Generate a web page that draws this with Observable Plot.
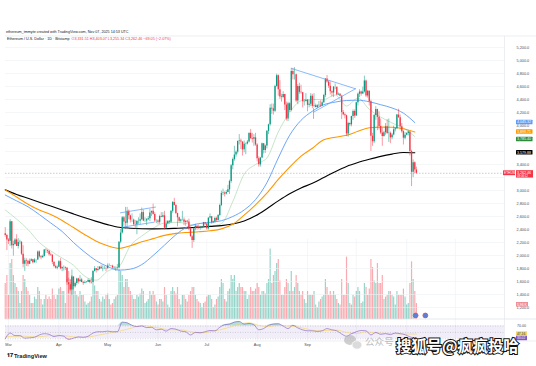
<!DOCTYPE html>
<html><head><meta charset="utf-8">
<script src="https://cdn.jsdelivr.net/npm/d3@7"></script>
<script src="https://cdn.jsdelivr.net/npm/@observablehq/plot@0.6"></script>
<style>
html,body{margin:0;padding:0;background:#fff;}
#wrap{position:relative;width:536px;height:366px;overflow:hidden;background:#fff;font-family:"Liberation Sans","DejaVu Sans",sans-serif;}
.layer{position:absolute;left:0;}
.txt{position:absolute;white-space:nowrap;line-height:1;}
</style></head><body><div id="wrap"></div>
<script>
// ---------- DATA (daily, 2025-02-27 .. 2025-11-07) ----------
const firstOpen = 2335;
const closes = [
 2307,2237,
 2218,2520,2150,2170,2240,2140,2200,2205,2020,1865,1920,1910,1865,1910,1935,1890,1930,1930,2055,1980,1965,1985,2085,2080,2065,2010,2005,1895,1830,1805,1820,
 1905,1795,1815,1815,1805,1580,1550,1470,1670,1520,1570,1640,1595,1625,1585,1575,1585,1590,1615,1585,1580,1755,1795,1770,1785,1820,1795,1800,1800,1795,
 1840,1840,1835,1810,1815,1815,1810,2205,2345,2580,2515,2495,2680,2610,2545,2545,2475,2470,2525,2525,2550,2660,2530,2530,2550,2565,2655,2680,2630,2530,2530,
 2510,2600,2590,2610,2420,2485,2525,2510,2680,2815,2770,2645,2580,2525,2545,2545,2510,2525,2515,2410,2290,2230,2410,2450,2420,2415,2425,2435,2505,2485,
 2410,2575,2595,2505,2515,2570,2540,2615,2770,2955,2960,2945,2970,3010,3140,3380,3475,3545,3590,3755,3760,3745,3625,3710,3715,3745,3880,3800,3790,3810,3700,
 3490,3395,3500,3720,3615,3685,3910,4010,4265,4255,4220,4600,4765,4550,4440,4430,4475,4315,4100,4335,4230,4830,4780,4780,4375,4600,4510,4505,4365,4370,4390,
 4310,4325,4450,4295,4305,4275,4305,4310,4300,4350,4460,4715,4670,4605,4520,4500,4590,4590,4470,4480,4450,4200,4165,4150,3870,4030,4010,4140,4215,4145,
 4350,4480,4515,4485,4515,4685,4455,4525,4365,3835,3750,4155,4245,4125,3985,3885,3830,3890,3980,3875,3880,3810,3855,3935,3950,4160,4120,3980,3905,3805,3850,
 3875,3900,3600,3280,3425,3315,3265
];
const highs = [
 2430,2325,
 2260,2550,2525,2220,2260,2320,2260,2235,2210,2150,1960,1950,1925,1945,1950,1940,1950,1935,2070,2070,2000,2005,2090,2105,2080,2070,2040,2010,1900,1850,1840,
 1920,1950,1825,1840,1825,1815,1650,1620,1690,1670,1590,1650,1650,1690,1650,1600,1610,1600,1640,1625,1660,1770,1830,1800,1830,1830,1850,1840,1830,1820,
 1870,1870,1845,1850,1830,1825,1860,2215,2400,2600,2600,2740,2740,2700,2620,2640,2560,2540,2530,2580,2640,2730,2700,2580,2570,2600,2710,2680,2790,2660,2550,
 2550,2620,2660,2660,2680,2530,2530,2540,2690,2830,2880,2780,2650,2590,2560,2680,2580,2540,2540,2560,2440,2310,2430,2480,2460,2470,2450,2440,2510,2510,
 2490,2580,2640,2600,2530,2590,2590,2630,2790,2990,3020,2980,3000,3080,3160,3400,3500,3680,3610,3760,3860,3790,3750,3760,3730,3770,3880,3940,3880,3860,3880,
 3720,3520,3510,3730,3720,3700,3920,4020,4320,4330,4330,4620,4790,4780,4690,4480,4520,4480,4360,4360,4350,4880,4880,4890,4790,4630,4650,4620,4510,4400,4490,
 4400,4390,4490,4480,4490,4330,4320,4370,4380,4380,4480,4720,4770,4690,4670,4530,4600,4640,4590,4500,4490,4460,4230,4190,4160,4050,4040,4140,4240,4240,
 4360,4500,4550,4530,4590,4760,4700,4540,4530,4390,3880,4170,4290,4250,4210,4100,3960,3910,4030,4090,4100,3900,3880,3990,3960,4170,4250,4160,4030,3920,3890,
 3890,3920,3910,3620,3470,3440,3360
];
const lows = [
 2280,2075,
 2170,2140,2100,1990,2150,2150,2100,2170,2000,1810,1755,1830,1825,1860,1905,1870,1880,1880,1925,1960,1935,1960,1975,2030,2030,1990,1985,1860,1810,1790,1780,
 1815,1780,1750,1760,1770,1540,1410,1450,1385,1470,1500,1540,1560,1590,1580,1540,1565,1575,1585,1565,1560,1575,1745,1730,1750,1775,1785,1750,1785,1750,
 1795,1830,1825,1800,1790,1755,1775,1805,2180,2330,2450,2400,2420,2550,2500,2510,2450,2400,2320,2480,2470,2540,2520,2510,2460,2540,2520,2600,2620,2500,2490,
 2470,2480,2580,2580,2390,2410,2470,2480,2490,2650,2760,2630,2440,2500,2500,2530,2460,2450,2490,2380,2280,2110,2200,2380,2390,2400,2390,2410,2430,2460,
 2390,2390,2560,2480,2490,2500,2520,2530,2600,2750,2920,2900,2930,2970,2940,3110,3320,3450,3510,3560,3700,3630,3530,3580,3550,3700,3730,3780,3730,3680,3680,
 3440,3360,3360,3490,3560,3570,3640,3860,3990,4170,4160,4200,4590,4450,4400,4360,4410,4230,4070,4060,4200,4210,4700,4700,4350,4320,4480,4480,4270,4300,4360,
 4210,4270,4290,4260,4270,4270,4260,4280,4280,4290,4340,4430,4650,4570,4470,4440,4430,4550,4460,4460,4440,4090,4150,4100,3830,3820,3980,3980,4080,4110,
 4140,4300,4430,4450,4480,4500,4430,4420,4300,3600,3680,3720,4080,3920,3930,3860,3680,3820,3850,3860,3740,3720,3780,3840,3900,3940,4110,3930,3880,3700,3780,
 3840,3840,3530,3060,3200,3260,3250
];
const volumes = [
 45,55,
 30,70,75,55,45,40,35,20,35,55,50,40,35,30,20,20,28,25,40,35,25,18,25,30,25,28,25,38,30,25,30,
 38,40,35,35,20,50,60,50,62,45,35,30,28,35,30,30,22,18,20,22,28,45,42,35,35,25,22,28,25,30,
 32,25,18,20,25,28,30,70,60,55,40,50,50,40,35,30,25,25,30,28,32,38,35,20,22,25,35,30,35,30,22,
 18,25,25,22,40,30,18,15,35,40,35,32,40,25,18,30,30,25,22,30,35,40,40,30,25,22,20,15,20,22,
 28,30,30,25,15,18,25,28,40,50,45,25,22,35,38,55,50,55,35,40,45,40,40,35,35,25,30,40,35,35,38,
 45,40,30,35,35,32,45,50,88,45,55,60,70,75,48,30,30,40,50,45,35,60,35,40,55,45,35,30,35,25,20,
 35,30,30,30,35,18,15,22,25,28,30,50,40,30,35,30,35,30,25,20,18,50,30,30,78,45,20,18,30,28,
 35,40,35,20,22,45,40,30,38,75,65,48,45,70,45,45,55,25,28,30,35,35,30,28,18,35,30,30,30,38,28,
 18,20,45,72,50,35,20
];
// moving averages, sampled weekly (day offset from 2025-03-01)
const maDays  = [-2,5,12,19,26,33,40,47,54,61,68,75,82,89,96,103,110,117,124,131,138,145,152,159,166,173,180,187,194,201,208,215,222,229,236,243,250];
const ma20  = [2700,2560,2400,2200,2070,1960,1850,1680,1620,1760,1830,2150,2300,2420,2500,2510,2490,2440,2450,2490,2830,3250,3400,3500,3900,4200,4380,4400,4400,4470,4300,4420,4250,4130,4040,3960,3830];
const ma50  = [2930,2840,2750,2630,2500,2370,2200,2050,1920,1830,1775,1790,1860,2000,2160,2320,2440,2490,2510,2535,2600,2700,2860,3120,3500,3850,4080,4220,4320,4360,4385,4390,4365,4320,4270,4190,4045];
const ma100 = [3010,2900,2790,2700,2630,2540,2430,2320,2220,2150,2110,2150,2210,2260,2310,2340,2355,2365,2380,2410,2480,2620,2780,2960,3170,3360,3530,3650,3780,3820,3850,3910,3965,3975,3972,3950,3900];
const ma200 = [3010,2940,2880,2820,2760,2700,2640,2580,2525,2475,2435,2420,2412,2410,2412,2418,2425,2435,2448,2460,2485,2530,2610,2720,2840,2950,3040,3110,3200,3290,3370,3430,3480,3525,3560,3585,3580];
// RSI(14) sampled every 3 days, and its moving average
const rsiDays = [-2,1,4,7,10,13,16,19,22,25,28,31,34,37,40,43,46,49,52,55,58,61,64,67,70,73,76,79,82,85,88,91,94,97,100,103,106,109,112,115,118,121,124,127,130,133,136,139,142,145,148,151,154,157,160,163,166,169,172,175,178,181,184,187,190,193,196,199,202,205,208,211,214,217,220,223,226,229,232,235,238,241,244,247,250,251];
const rsi = [30,48,40,40,32,33,35,42,46,44,37,40,38,28,32,36,35,38,48,52,52,54,52,52,82,80,72,68,70,65,66,58,60,54,62,60,54,52,42,50,49,52,56,55,66,74,76,82,84,76,78,74,58,62,72,76,77,70,62,72,64,58,55,55,53,55,62,58,55,45,38,46,52,56,55,42,50,44,46,43,48,46,43,36,32,31];
const rsiMaDays = [-2,4,10,16,22,28,34,40,46,52,58,64,70,76,82,88,94,100,106,112,118,124,130,136,142,148,154,160,166,172,178,184,190,196,202,208,214,220,226,232,238,244,250,251];
const rsiMa = [36,38,38,36,38,41,40,36,34,38,44,50,56,64,72,68,62,58,58,52,48,52,58,66,76,80,72,68,72,70,67,60,55,56,57,50,46,52,48,47,46,45,45,45];
// price-axis ticks (those under the coloured value tags are hidden) and visible month labels
const priceTicks = d3.range(1200, 5201, 200);
const hiddenTicks = [3800, 3600, 3200];
const monthLabels = ["Mar","Apr","May","Jun","Jul","Aug","Sep"];
const gridMonths = ["Mar","Apr","May","Jun","Jul","Aug","Sep","Oct","Nov","Dec"];
// drawn trendlines: [dayOffset, price] pairs
const trendSegs = [
  [[68.9,2657],[90.5,2745]],
  [[69.9,2435],[89.4,2512]],
  [[174.2,4877],[213.5,4565]],
  [[187.7,4205],[213.5,4565]],
  [[187.7,4262],[187.7,4108]]
];

// ---------- HELPERS ----------
const DAY = 864e5;
const mar1 = Date.UTC(2025,2,1);
const dayDate = d => new Date(mar1 + d*DAY);
const xDomain = [dayDate(-1.846), dayDate(305.2)];
const GREEN = "#089981", RED = "#f23645";
const candles = closes.map((c,i)=>{
  const open = i ? closes[i-1] : firstOpen;
  return {date:new Date(Date.UTC(2025,1,27+i)), open, close:c,
    high:Math.max(highs[i],open,c), low:Math.min(lows[i],open,c), vol:volumes[i], up:c>=open};
});
const gridDates = gridMonths.map((m,i)=>new Date(Date.UTC(2025,2+i,1)));
const labelDates = monthLabels.map((m,i)=>new Date(Date.UTC(2025,2+i,1)));
const axisTicks = priceTicks.filter(t=>!hiddenTicks.includes(t));
const maSeries = (arr,name)=>arr.map((v,i)=>({date:dayDate(maDays[i]), v, name}));
const wrap = document.getElementById("wrap");
function place(el, top){ el.classList.add("layer"); el.style.top = top+"px"; wrap.appendChild(el); return el; }
function txt(s, left, top, size, color, extra){
  const d = document.createElement("div"); d.className="txt"; d.textContent=s;
  d.style.left=left+"px"; d.style.top=top+"px"; d.style.fontSize=size+"px"; d.style.color=color;
  if(extra) Object.assign(d.style, extra); wrap.appendChild(d); return d;
}
const common = {width:536, marginLeft:5, marginRight:32, marginTop:0, marginBottom:0,
  style:{background:"transparent", overflow:"visible", fontFamily:"Liberation Sans, DejaVu Sans, sans-serif"}};

// ---------- LAYER 1: grid + volume ----------
const volPlot = Plot.plot({...common, height:283,
  x:{type:"utc", domain:xDomain, axis:null},
  y:{domain:[0,100], range:[283,203], axis:null},
  marks:[
    Plot.ruleX(gridDates,{stroke:"#eef0f3", strokeWidth:0.6, y1:0, y2:100}),
    Plot.ruleX(candles,{x:"date", y1:0, y2:"vol", stroke:d=>d.up?GREEN:RED, strokeOpacity:0.42, strokeWidth:1.2}),
    Plot.dot([{d:250.5,c:"#e8505b"},{d:256.5,c:"#e8505b"}],{x:d=>dayDate(d.d), y:5, r:2.4, fill:"#5b7fd6", stroke:d=>d.c, strokeWidth:1})
  ]});
place(volPlot, 36);

// ---------- LAYER 2: price ----------
const pricePlot = Plot.plot({...common, height:283,
  x:{type:"utc", domain:xDomain, axis:null},
  y:{domain:[1015.4,5369.2], range:[283,0], axis:null},
  marks:[
    Plot.ruleY(priceTicks,{stroke:"#eef0f3", strokeWidth:0.6}),
    Plot.axisY(axisTicks,{anchor:"right", tickSize:0, tickPadding:12, fontSize:3.8, fill:"#4a4e59", tickFormat:d3.format(",.1f")}),
    Plot.ruleY([closes[closes.length-1]],{stroke:"#9598a1", strokeWidth:0.5, strokeDasharray:"1.5,1.5"}),
    Plot.line(maSeries(ma20,"20"),{x:"date", y:"v", stroke:"#9fd3a5", strokeWidth:0.6, curve:"monotone-x"}),
    Plot.line(maSeries(ma200,"200"),{x:"date", y:"v", stroke:"#000", strokeWidth:1.1, curve:"monotone-x"}),
    Plot.line(maSeries(ma100,"100"),{x:"date", y:"v", stroke:"#ff9800", strokeWidth:1.1, curve:"monotone-x"}),
    Plot.line(maSeries(ma50,"50"),{x:"date", y:"v", stroke:"#5b9cf6", strokeWidth:0.9, curve:"monotone-x"}),
    Plot.ruleX(candles,{x:"date", y1:"low", y2:"high", stroke:d=>d.up?GREEN:RED, strokeWidth:0.5}),
    Plot.ruleX(candles,{x:"date", y1:"open", y2:"close", stroke:d=>d.up?GREEN:RED, strokeWidth:1.3}),
    ...trendSegs.map(s=>Plot.line(s,{x:p=>dayDate(p[0]), y:p=>p[1], stroke:"#5b9cf6", strokeWidth:0.7}))
  ]});
place(pricePlot, 36);
const ys = pricePlot.scale("y");

// ---------- LAYER 3: RSI + time axis ----------
const rsiPts = rsi.map((v,i)=>({date:dayDate(rsiDays[i]), v}));
const rsiMaPts = rsiMa.map((v,i)=>({date:dayDate(rsiMaDays[i]), v}));
const rsiPlot = Plot.plot({...common, height:31, marginBottom:9,
  x:{type:"utc", domain:xDomain, axis:null},
  y:{domain:[21.6,90.3], range:[22,0], axis:null},
  marks:[
    Plot.ruleX(gridDates,{stroke:"#eef0f3", strokeWidth:0.6, y1:21.6, y2:90.3}),
    Plot.areaY([{date:xDomain[0]},{date:xDomain[1]}],{x:"date", y1:30, y2:70, fill:"#7e57c2", fillOpacity:0.1}),
    Plot.ruleY([70,50,30],{stroke:"#9598a1", strokeWidth:0.5, strokeDasharray:"1,1.5", strokeOpacity:0.8}),
    Plot.areaY(rsiPts,{x:"date", y1:70, y2:d=>Math.max(d.v,70), fill:GREEN, fillOpacity:0.3, curve:"monotone-x"}),
    Plot.areaY(rsiPts,{x:"date", y1:30, y2:d=>Math.min(d.v,30), fill:RED, fillOpacity:0.3, curve:"monotone-x"}),
    Plot.line(rsiMaPts,{x:"date", y:"v", stroke:"#f5d76e", strokeWidth:0.7, curve:"monotone-x"}),
    Plot.line(rsiPts,{x:"date", y:"v", stroke:"#7e57c2", strokeWidth:0.6, curve:"monotone-x"}),
    Plot.axisX(labelDates,{anchor:"bottom", tickSize:0, tickPadding:1.5, fontSize:3.8, fill:"#4a4e59", tickFormat:(d,i)=>monthLabels[i]})
  ]});
place(rsiPlot, 319);
const rsiY = rsiPlot.scale("y");

// ---------- FRAME LINES ----------
const frame = d3.select(wrap).append("svg").attr("class","layer").style("top","0px").attr("width",536).attr("height",366)
  .style("pointer-events","none");
frame.append("line").attr("x1",5).attr("x2",536).attr("y1",36).attr("y2",36).attr("stroke","#e0e3eb").attr("stroke-width",0.6);
frame.append("line").attr("x1",504.5).attr("x2",504.5).attr("y1",36).attr("y2",350).attr("stroke","#e0e3eb").attr("stroke-width",0.6);
frame.append("line").attr("x1",5).attr("x2",536).attr("y1",319).attr("y2",319).attr("stroke","#e0e3eb").attr("stroke-width",0.8);
frame.append("line").attr("x1",5).attr("x2",536).attr("y1",341).attr("y2",341).attr("stroke","#e0e3eb").attr("stroke-width",0.6);

// right-axis value labels
function tag(yPage, text, bg, fg, w){
  const g = frame.append("g");
  g.append("rect").attr("x",516).attr("y",yPage-2.3).attr("width",w||16.5).attr("height",4.6).attr("rx",0.6).attr("fill",bg);
  g.append("text").attr("x",517).attr("y",yPage+1.3).attr("font-size",3.6).attr("fill",fg).text(text);
}
const P = v => 36 + ys.apply(v);
tag(P(ma50[ma50.length-1]), "4,045.32", "#5b9cf6", "#fff");
tag(P(ma100[ma100.length-1]), "3,899.71", "#ff9800", "#fff");
tag(P(3785), "3,785.40", "#2e8b3d", "#fff");
tag(P(ma200[ma200.length-1]), "3,579.88", "#000", "#fff");
// price tag with countdown
frame.append("rect").attr("x",503).attr("y",P(3265)-2.4).attr("width",12).attr("height",4.8).attr("fill",RED);
frame.append("text").attr("x",504).attr("y",P(3265)+1.3).attr("font-size",3.2).attr("fill","#fff").text("ETHUSD");
frame.append("rect").attr("x",516).attr("y",P(3265)-2.6).attr("width",17).attr("height",7.4).attr("fill",RED);
frame.append("text").attr("x",517).attr("y",P(3265)+1.1).attr("font-size",3.6).attr("fill","#fff").text("3,262.46");
frame.append("text").attr("x",517).attr("y",P(3265)+4.2).attr("font-size",2.8).attr("fill","#fff").text("09:06:12");
// volume tag
frame.append("rect").attr("x",516).attr("y",302).attr("width",12).attr("height",4.6).attr("fill","#f08d96");
frame.append("text").attr("x",517).attr("y",305.6).attr("font-size",3.4).attr("fill","#fff").text("5.96 K");
// rsi tags
const R = v => 319 + rsiY.apply(v);
frame.append("text").attr("x",517).attr("y",R(70)+1.3).attr("font-size",3.6).attr("fill","#4a4e59").text("70.00");
frame.append("rect").attr("x",516).attr("y",R(45)-2.2).attr("width",11).attr("height",4.4).attr("fill","#f5d76e");
frame.append("text").attr("x",517).attr("y",R(45)+1.2).attr("font-size",3.3).attr("fill","#333").text("47.16");
frame.append("rect").attr("x",516).attr("y",R(31)-2.2).attr("width",11).attr("height",4.4).attr("fill","#7e57c2");
frame.append("text").attr("x",517).attr("y",R(31)+1.2).attr("font-size",3.3).attr("fill","#fff").text("33.02");

// ---------- TEXTS ----------
txt("ethereum_tmmyte created with TradingView.com, Nov 07, 2025 14:53 UTC", 6, 31.2, 3.7, "#131722");
const leg = txt("", 7, 38.2, 3.7, "#131722");
leg.innerHTML = 'Ethereum / U.S. Dollar · 1D · Bitstamp &nbsp;<span style="color:#f23645">O3,331.51 H3,403.07 L3,255.34 C3,262.46 −69.05 (−2.07%)</span>';
txt("TradingView", 14, 353.5, 5.6, "#131722", {fontWeight:"bold"});
txt("𝟏𝟕", 7, 353.3, 5.6, "#131722", {fontWeight:"bold"});
// watermark
txt("公众号", 365, 337, 9.6, "rgba(170,170,170,0.8)", {fontFamily:"Noto Sans CJK SC"});
const wc = frame.append("g").attr("opacity",0.6);
wc.append("ellipse").attr("cx",350).attr("cy",340).attr("rx",6).attr("ry",5).attr("fill","#b0b0b0");
wc.append("ellipse").attr("cx",357).attr("cy",345).attr("rx",5).attr("ry",4.2).attr("fill","#c4c4c4").attr("stroke","#fff").attr("stroke-width",0.8);
txt("搜狐号@疯疯投哈", 396, 337.5, 15.5, "#fff", {fontFamily:"Noto Sans CJK SC", fontWeight:"bold",
  webkitTextStroke:"2px #111", paintOrder:"stroke fill", letterSpacing:"-0.2px"});
</script></body></html>
